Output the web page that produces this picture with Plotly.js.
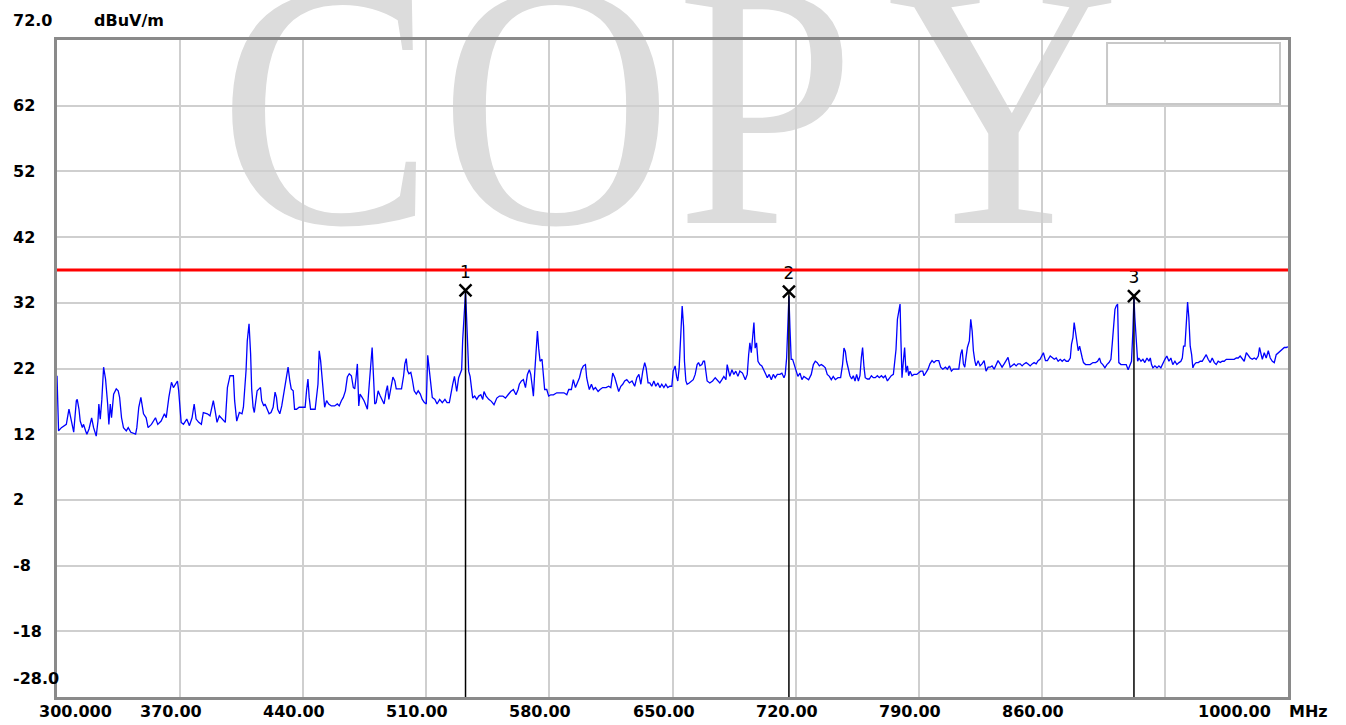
<!DOCTYPE html>
<html><head><meta charset="utf-8">
<script src="https://cdn.plot.ly/plotly-3.0.1.min.js"></script>
<style>
html,body{margin:0;padding:0;background:#fff;}
#wrap{position:relative;width:1346px;height:725px;overflow:hidden;}
#wm{position:absolute;left:0;top:0;z-index:0;}
#chart{position:absolute;left:0;top:0;width:1346px;height:725px;z-index:1;}
</style></head><body>
<div id="wrap">
<svg id="wm" width="1346" height="725"><text transform="scale(0.92,1)" x="238 478 735 964" y="223" font-family="Liberation Serif" font-size="350" fill="#dcdcdc">COPY</text></svg>
<div id="chart"></div>
</div>
<script>
// Spectrum readings [MHz, dBuV/m], split by frequency span
const seg300 = [[300.0,20.9],[300.4,16.6],[300.9,12.5],[302.5,13.0],[305.3,13.5],[306.8,15.8],[307.6,14.8],[308.7,13.3],[309.5,12.3],[311.0,17.1],[311.5,17.3],[312.5,15.8],[313.2,14.0],[314.4,13.0],[315.1,13.5],[316.3,12.5],[317.0,12.0],[318.2,12.8],[319.7,14.5],[320.8,13.0],[322.3,11.7],[323.3,14.0],[323.8,16.6],[324.6,14.3],[325.5,17.3],[326.5,22.2],[327.6,20.4],[328.8,16.6],[329.5,13.5],[330.3,16.6],[331.0,14.5],[332.2,18.1],[333.7,18.9],[334.8,18.6],[335.6,17.6],[336.7,14.5],[337.8,13.0],[339.4,12.5],[340.5,13.0],[342.0,12.3],[344.7,12.0],[345.4,13.0],[346.5,16.1],[347.7,17.6],[349.2,15.1],[350.7,14.5],[351.8,13.0],[353.7,13.5],[356.0,14.5],[357.3,13.5],[359.2,14.0],[361.1,15.1],[362.1,14.5],[363.6,17.6],[365.1,19.9],[366.2,19.1],[368.5,20.1],[369.2,18.6],[370.6,13.8],[371.9,13.5],[373.8,14.3],[375.3,13.3],[376.8,14.5],[378.0,16.6],[379.1,14.3],[380.6,13.8],[382.1,13.5],[383.2,15.3],[385.5,15.1],[387.0,14.8],[388.9,17.1],[389.9,15.6],[391.0,13.8],[392.3,14.8],[393.8,14.3],[395.7,13.8],[396.9,19.1],[398.4,20.9],[400.3,20.9],[401.0,17.1],[402.2,14.0],[403.7,15.3],[405.2,15.1],[406.0,16.1],[407.5,21.7],[408.2,26.2],[409.2,28.8]];
const seg410 = [[410.1,24.2],[410.7,18.9],[411.5,16.1],[412.2,15.3],[413.0,16.6],[413.8,18.6],[414.9,18.9],[415.7,19.1],[416.4,17.1],[417.6,16.3],[418.3,16.6],[419.5,15.8],[420.6,15.1],[421.7,15.3],[422.9,16.1],[424.0,18.4],[424.8,17.6],[425.5,15.8],[426.7,15.1],[427.8,16.3],[429.0,18.4],[429.7,19.6],[430.5,20.7],[431.4,22.2],[432.4,20.1],[433.2,18.9],[434.3,18.6],[435.1,15.8],[436.2,15.8],[437.7,16.1],[439.6,16.1],[441.1,16.1],[441.9,18.6],[442.7,20.4],[443.4,17.6],[444.2,15.8],[445.3,15.8],[446.8,15.8],[448.4,19.6],[449.1,24.7],[449.9,23.2],[450.7,20.7],[451.4,18.6],[452.2,16.1],[453.3,17.1],[454.5,16.6],[456.0,16.3],[457.9,16.3],[459.4,16.6],[460.5,16.3],[461.7,17.1],[462.8,17.6],[464.0,18.6],[465.1,20.7],[466.2,21.2],[467.4,20.9],[468.5,19.1],[469.3,18.9],[470.1,20.7],[470.8,22.7],[471.6,16.3],[472.3,18.1],[473.5,17.6],[474.6,17.1],[475.8,16.3],[476.5,15.8],[477.7,20.1],[478.4,23.2],[479.2,25.2],[479.9,21.2],[480.7,16.6],[481.5,16.8],[482.6,18.6],[483.7,17.9],[484.9,17.1],[486.0,16.6],[487.2,18.6],[487.9,19.4],[488.7,17.3],[489.8,18.9],[491.0,20.7],[492.1,20.1],[492.9,18.9],[494.0,18.9],[495.9,18.9],[497.1,20.9],[497.8,22.7],[498.6,23.5],[499.3,21.7],[500.1,21.2],[501.2,21.4],[502.0,20.4],[503.1,18.6],[504.3,18.1],[505.4,18.6],[506.6,18.1],[507.7,17.3],[508.9,16.8],[510.0,16.6],[510.8,24.0],[511.5,22.4],[512.3,20.7],[513.4,17.6],[514.9,17.3],[516.1,16.6],[517.6,17.3],[519.1,16.8],[520.6,17.3],[521.8,16.8]];
const seg523 = [[523.1,16.8],[524.1,18.0],[525.0,19.6],[526.0,20.8],[526.5,20.1],[527.3,18.5],[528.4,20.6],[529.4,21.3],[530.1,21.8],[530.7,26.4],[531.5,30.7],[532.3,33.6],[532.8,30.5],[533.4,25.1],[534.1,21.6],[534.9,20.8],[535.6,18.8],[536.4,17.5],[537.5,17.8],[538.7,17.3],[539.8,17.8],[541.0,18.0],[542.1,17.3],[542.8,18.5],[544.0,17.8],[545.5,17.3],[547.0,17.0],[548.5,16.5],[550.1,17.5],[551.6,17.8],[553.5,17.8],[555.0,17.5],[556.5,18.0],[558.0,18.5],[559.5,18.8],[561.0,18.0],[562.2,18.8],[562.9,19.6],[564.1,20.1],[565.2,20.3],[566.4,19.1],[567.5,21.1],[568.6,21.8],[569.4,21.1],[570.1,19.6],[570.9,17.8],[571.7,21.6],[572.4,25.1],[573.2,27.7],[573.9,25.1],[574.7,23.1],[575.8,23.4],[576.6,20.8],[577.3,18.8],[578.5,18.8],[579.6,17.8],[580.8,18.0],[582.3,18.0],[584.2,18.3],[586.4,18.3],[588.3,18.3],[589.9,18.0],[591.0,18.8],[592.5,18.8],[593.6,20.3],[594.8,19.1],[595.9,19.8],[597.1,20.6],[598.2,21.8],[599.3,22.4],[600.5,22.6],[601.2,20.6],[602.0,19.6],[602.7,18.8],[603.9,19.6],[605.0,18.8],[606.2,19.1],[607.7,18.5],[608.8,18.8],[610.3,19.1],[612.2,19.1],[613.7,19.3],[614.9,19.1],[616.0,21.3],[617.2,20.6],[618.3,19.6],[619.4,18.5],[620.6,19.3],[621.7,19.6],[622.8,20.1],[624.0,20.3],[625.5,19.8],[627.0,20.1],[628.5,19.3],[629.7,20.6],[630.9,21.1],[632.0,19.6],[633.1,21.6],[634.2,22.9],[635.0,22.1],[636.1,19.8]];
const seg637 = [[637.1,19.8],[638.2,19.3],[639.4,20.1],[640.5,19.3],[641.7,19.8],[642.8,19.1],[643.9,19.6],[645.1,19.1],[646.2,19.6],[647.3,19.1],[648.5,19.3],[649.6,19.3],[650.4,21.6],[651.5,22.4],[652.3,20.8],[653.0,20.1],[653.8,22.1],[654.6,27.4],[655.5,31.5],[656.3,28.4],[656.8,23.1],[657.6,20.1],[658.3,19.6],[659.5,19.8],[660.6,20.1],[661.8,20.3],[662.9,21.1],[664.0,22.6],[664.8,22.9],[665.6,22.4],[666.7,22.6],[667.5,23.1],[668.2,23.1],[669.0,21.1],[669.7,20.1],[671.2,19.8],[672.8,20.1],[674.3,20.6],[675.8,20.1],[676.9,19.8],[678.1,20.3],[679.2,20.8],[680.4,20.3],[681.1,22.6],[681.9,21.6],[682.6,20.8],[683.8,21.8],[684.9,21.1],[686.0,21.6],[687.2,20.8],[688.3,21.6],[689.8,21.3],[691.4,20.3],[692.5,21.1],[693.3,24.1],[694.0,25.9],[694.8,24.4],[695.5,26.2],[696.3,29.0],[697.0,25.1],[697.8,25.9],[698.6,23.1],[699.7,22.6],[700.8,22.4],[702.0,21.8],[703.1,21.1],[703.9,20.6],[705.0,21.1],[706.2,20.3],[707.3,21.1],[708.4,20.6],[709.6,21.1],[711.1,21.1],[712.2,21.3],[713.4,20.6],[714.1,21.1],[714.9,23.6],[715.6,29.7],[716.2,33.0],[716.8,28.2],[717.5,23.4],[718.3,23.4],[719.1,22.6],[720.2,21.6],[721.3,20.8],[722.5,21.3],[723.6,20.3],[724.7,20.8],[725.9,20.6],[727.4,20.3],[728.9,21.1],[730.1,22.6],[731.2,23.1],[732.3,22.9],[733.5,22.4],[734.6,22.6],[735.7,22.4],[736.9,22.1],[738.0,21.1],[739.2,20.8],[740.3,20.3],[741.4,20.8],[742.6,20.3],[744.1,20.6],[745.6,20.6],[746.7,22.6],[747.5,25.1],[748.3,24.6],[749.0,23.1]];
const seg750 = [[750.9,20.9],[751.9,20.4],[752.8,20.9],[753.8,20.1],[754.7,21.1],[755.7,20.1],[756.6,20.9],[757.4,23.7],[758.1,25.2],[758.9,22.2],[759.6,20.6],[760.8,20.4],[761.9,20.4],[763.1,20.9],[764.2,20.6],[765.3,20.6],[766.5,20.9],[767.6,20.6],[768.8,20.9],[769.9,20.6],[771.0,20.9],[772.2,20.1],[773.3,20.6],[774.4,20.9],[775.6,21.1],[776.3,23.2],[777.1,24.9],[777.9,29.5],[778.6,31.0],[779.4,31.8],[779.9,26.2],[780.5,20.6],[781.3,23.2],[782.0,25.2],[782.8,21.4],[783.6,22.4],[784.3,20.9],[785.1,21.6],[786.2,20.9],[787.3,21.1],[788.9,21.1],[790.0,21.4],[791.1,21.6],[792.3,21.6],[793.0,20.9],[794.2,21.4],[795.3,21.9],[796.4,22.7],[797.6,23.2],[798.7,22.9],[799.9,23.2],[801.4,23.2],[802.5,22.2],[803.7,21.9],[805.2,22.2],[806.3,21.9],[807.5,22.4],[808.6,21.6],[809.7,21.9],[811.2,21.9],[812.8,21.9],[813.9,24.2],[814.7,24.9],[815.4,22.7],[816.2,22.2],[816.9,23.7],[817.7,25.2],[818.8,26.2],[819.6,29.5],[820.4,27.7],[821.1,24.7],[821.9,23.2],[822.6,22.4],[823.8,23.2],[824.9,22.4],[826.0,22.7],[827.2,23.2],[828.3,21.6],[829.5,22.2],[830.6,22.2],[831.7,22.4],[832.9,21.9],[834.0,22.7],[835.1,23.2],[836.3,22.7],[837.4,22.2],[838.6,22.7],[839.7,23.2],[840.8,23.7],[842.0,22.2],[843.1,22.4],[844.3,22.7],[845.4,22.4],[846.5,22.7],[847.7,22.7],[848.8,22.4],[849.9,22.7],[851.1,22.9],[852.2,22.7],[853.4,22.4],[854.5,22.7],[855.6,22.9],[856.8,22.7],[857.9,23.2],[859.0,23.4],[860.2,23.9],[860.9,24.4],[862.1,23.2],[863.2,23.2]];
const seg864 = [[864.8,23.9],[865.9,23.6],[867.1,23.4],[868.2,23.6],[869.3,23.1],[870.5,23.4],[871.6,23.1],[872.8,23.4],[873.9,23.1],[875.0,23.1],[876.2,23.6],[876.9,25.7],[877.7,26.7],[878.4,29.0],[879.2,27.7],[880.0,25.9],[880.7,24.7],[881.5,25.4],[882.2,24.4],[883.0,23.6],[883.7,22.9],[884.9,22.6],[886.0,22.6],[887.5,22.6],[889.1,22.9],[890.6,22.9],[891.7,23.1],[892.8,23.6],[893.6,22.9],[894.7,22.6],[895.9,22.1],[897.0,22.6],[898.2,22.9],[899.3,23.4],[900.1,25.9],[900.8,29.2],[901.6,31.0],[902.3,31.5],[903.1,31.8],[903.8,22.9],[905.0,22.6],[906.5,22.6],[908.0,22.6],[909.1,21.8],[910.3,22.6],[911.0,23.1],[911.8,27.7],[912.4,32.8],[912.9,29.8],[913.7,25.4],[914.5,23.1],[915.2,23.6],[916.4,23.1],[917.5,23.4],[918.6,22.9],[919.8,23.6],[920.9,23.1],[921.7,23.6],[922.4,22.6],[923.2,22.1],[924.3,22.4],[925.5,22.1],[926.6,22.4],[927.7,22.1],[928.9,22.9],[930.0,23.4],[931.1,23.9],[932.3,23.1],[933.4,23.6],[934.5,22.6],[935.7,23.1],[936.8,22.6],[938.0,22.9],[939.1,23.1],[939.9,23.6],[940.6,25.4],[941.4,25.4],[942.1,29.5],[942.9,32.1],[943.6,29.8],[944.4,25.4],[945.2,24.1],[945.9,22.1],[946.7,22.6],[947.8,22.9],[949.0,22.9],[950.1,23.1],[951.2,23.1],[952.4,23.6],[953.5,24.1],[954.6,23.4],[955.8,22.9],[956.9,23.6],[958.1,22.9],[959.2,22.6],[960.3,23.1],[961.5,22.9],[962.6,23.1],[963.7,23.1],[964.9,23.4],[966.0,23.4],[967.2,23.4],[968.3,23.4],[969.4,23.4],[970.6,23.6],[971.7,23.6],[972.8,23.9],[974.0,23.4],[975.1,23.1],[976.3,24.4],[977.4,23.9],[978.5,23.6],[979.7,23.4],[980.8,23.6],[981.9,23.4],[983.1,23.9],[983.8,25.2],[984.6,24.1],[985.4,23.4],[986.5,24.4],[987.6,23.6],[988.8,24.7],[989.9,23.6],[991.1,23.1],[992.2,22.9],[993.3,24.1],[994.5,24.4],[995.6,24.7],[996.7,24.9],[997.9,25.2],[999.0,25.2],[1000.0,25.3]];

const markerNames = ['1', '2', '3'];
const markerFreq = [532.3, 716.2, 912.4];
const markerLevel = [33.9, 33.7, 33.0];

const limitFreq = [300, 1000];
const limitLevel = [37, 37];

const xTickVals = [300, 370, 440, 510, 580, 650, 720, 790, 860, 930, 1000];
const xTickText = ['300.000', '370.00', '440.00', '510.00', '580.00', '650.00', '720.00', '790.00', '860.00', '', '1000.00'];
const yTickVals = [72, 62, 52, 42, 32, 22, 12, 2, -8, -18, -28];
const yTickText = ['72.0', '62', '52', '42', '32', '22', '12', '2', '-8', '-18', '-28.0'];
const yUnit = 'dBuV/m';
const xUnit = 'MHz';

const spectrum = [].concat(seg300, seg410, seg523, seg637, seg750, seg864);
const fx = spectrum.map(p => p[0]);
const fy = spectrum.map(p => p[1]);

const vx = [], vy = [];
markerFreq.forEach((f, i) => { vx.push(f, f, null); vy.push(markerLevel[i], yTickVals[yTickVals.length - 1], null); });

const labelFont = {family: 'DejaVu Sans', size: 16, color: '#000', weight: 'bold'};

const annotations = [];
yTickVals.forEach((v, i) => {
  let sh = 0;
  if (i === 0) sh = 20;
  if (i === yTickVals.length - 1) sh = 19;
  annotations.push({xref: 'paper', yref: 'y', x: -0.0374, y: v, yshift: sh, text: '<b>' + yTickText[i] + '</b>',
    showarrow: false, xanchor: 'left', yanchor: 'middle', font: labelFont});
});
xTickVals.forEach((v, i) => {
  if (!xTickText[i]) return;
  let sh = -9;
  if (i === 0) sh = 18;
  if (i === xTickVals.length - 1) sh = -54;
  annotations.push({xref: 'x', yref: 'paper', x: v, y: 0, yshift: -14, xshift: sh, text: '<b>' + xTickText[i] + '</b>',
    showarrow: false, xanchor: 'center', yanchor: 'middle', font: labelFont});
});
annotations.push({xref: 'paper', yref: 'paper', x: 0.0284, y: 1, yshift: 20, text: '<b>' + yUnit + '</b>', showarrow: false, xanchor: 'left', yanchor: 'middle', font: labelFont});
annotations.push({xref: 'paper', yref: 'paper', x: 1, y: 0, yshift: -14, xshift: -1, text: '<b>' + xUnit + '</b>', showarrow: false, xanchor: 'left', yanchor: 'middle', font: labelFont});

const traces = [
  {x: fx, y: fy, type: 'scatter', mode: 'lines', line: {color: '#0000ff', width: 1.3}, hoverinfo: 'skip'},
  {x: vx, y: vy, type: 'scatter', mode: 'lines', line: {color: '#000000', width: 1.5}, hoverinfo: 'skip'},
  {x: markerFreq, y: markerLevel, type: 'scatter', mode: 'markers+text', text: markerNames, textposition: 'top center',
    textfont: {family: 'DejaVu Sans', size: 17, color: '#000'},
    marker: {symbol: 'x-thin-open', size: 12, color: '#000', line: {color: '#000', width: 2.5}}, hoverinfo: 'skip'},
  {x: limitFreq, y: limitLevel, type: 'scatter', mode: 'lines', line: {color: '#ff0000', width: 3}, hoverinfo: 'skip'}
];

const axisCommon = {showgrid: true, gridcolor: '#cfcfcf', gridwidth: 2, zeroline: false, showticklabels: false, ticks: '',
  showline: true, mirror: true, linecolor: '#8a8a8a', linewidth: 3, fixedrange: true};

const layout = {
  width: 1346, height: 725,
  margin: {l: 57, r: 58, t: 40, b: 28, pad: 0},
  paper_bgcolor: 'rgba(0,0,0,0)', plot_bgcolor: 'rgba(0,0,0,0)',
  showlegend: false,
  xaxis: Object.assign({}, axisCommon, {range: [300, 1000], tickvals: xTickVals}),
  yaxis: Object.assign({}, axisCommon, {range: [-28, 72], tickvals: yTickVals}),
  annotations: annotations,
  shapes: [{type: 'rect', xref: 'paper', yref: 'paper', x0: 0.853, x1: 0.9935, y0: 0.9026, y1: 0.9954,
    fillcolor: '#ffffff', line: {color: '#c8c8c8', width: 2}, layer: 'above'}]
};

Plotly.newPlot('chart', traces, layout, {staticPlot: true, displayModeBar: false});
</script>
</body></html>
